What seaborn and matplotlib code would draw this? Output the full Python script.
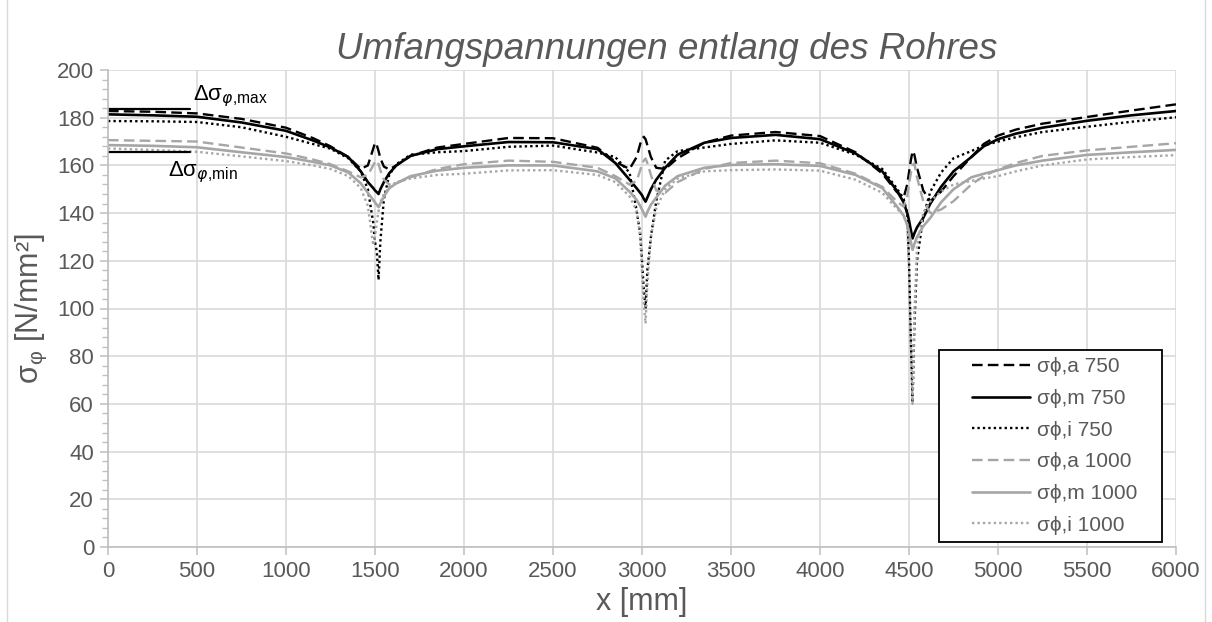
import numpy as np
import pandas as pd
import seaborn as sns
import matplotlib
matplotlib.use("Agg")
import matplotlib.pyplot as plt
from matplotlib.ticker import MultipleLocator
from matplotlib.lines import Line2D
from matplotlib.patches import Rectangle

# ---------------- data ----------------
x_mm = [0, 250, 500, 750, 1000, 1150, 1250, 1350, 1420, 1460,
        1490, 1500, 1510, 1520, 1530, 1550, 1580, 1620, 1700, 1850,
        2000, 2250, 2500, 2750, 2850, 2930, 2970, 2990, 3000, 3010,
        3020, 3030, 3050, 3080, 3130, 3200, 3350, 3500, 3750, 4000,
        4200, 4350, 4430, 4470, 4490, 4500, 4510, 4520, 4530, 4545,
        4580, 4620, 4680, 4750, 4850, 4920, 5000, 5100, 5250, 5500,
        5750, 6000]

sig_a_750 = [182.8, 182.5, 181.8, 179.5, 175.8, 171.5, 168.0, 163.5, 158.5, 160.0,
             167.0, 169.5, 168.5, 166.0, 163.0, 159.5, 158.3, 160.0, 164.0, 167.5,
             169.0, 171.5, 171.4, 167.4, 161.5, 158.5, 163.5, 169.0, 171.0, 172.0,
             171.0, 168.5, 163.5, 159.0, 158.5, 163.0, 169.5, 172.5, 174.0, 172.3,
             165.5, 156.6, 149.0, 146.5, 152.0, 157.0, 162.0, 166.0, 164.5, 159.0,
             149.5, 145.0, 149.0, 155.5, 163.5, 169.0, 172.5, 175.0, 177.5, 180.3,
             183.0, 185.6]

sig_m_750 = [181.4, 181.0, 180.4, 178.0, 174.5, 170.5, 167.5, 163.5, 157.5, 153.0,
             150.5, 149.5, 148.8, 148.0, 150.0, 153.0, 156.7, 160.0, 164.0, 166.8,
             168.0, 169.8, 169.7, 166.8, 161.0, 154.0, 150.4, 148.5, 147.5, 146.0,
             144.8, 146.5, 150.0, 154.0, 159.0, 164.5, 169.5, 171.5, 172.8, 171.0,
             165.0, 157.5, 149.6, 144.5, 140.0, 137.0, 133.0, 129.4, 131.5, 134.0,
             138.0, 144.0, 151.0, 157.5, 163.5, 168.0, 171.0, 173.3, 175.8, 178.7,
             181.0, 182.8]

sig_i_750 = [178.6, 178.5, 178.2, 176.0, 172.0, 169.0, 167.0, 163.0, 157.5, 150.0,
             136.0, 128.0, 124.0, 112.0, 128.0, 146.0, 156.0, 160.5, 164.5, 165.5,
             166.0, 167.8, 168.3, 165.4, 163.5, 157.0, 141.0, 131.0, 120.0, 108.0,
             100.0, 116.0, 130.0, 145.0, 162.0, 166.0, 167.5, 169.0, 170.5, 169.5,
             164.5, 158.5, 150.5, 146.0, 140.0, 120.0, 88.0, 60.5, 92.0, 120.0,
             138.5, 149.0, 157.0, 163.0, 166.0, 168.3, 170.0, 171.8, 174.0, 176.2,
             178.3, 180.2]

sig_a_1000 = [170.6, 170.3, 170.0, 167.5, 165.0, 162.5, 160.5, 157.5, 155.0, 156.0,
              160.0, 161.5, 162.0, 160.5, 158.0, 154.0, 152.0, 152.5, 155.0, 158.5,
              160.5, 162.0, 161.5, 159.0, 155.5, 152.0, 153.5, 158.0, 160.5, 162.0,
              162.9, 161.0, 156.0, 149.5, 148.5, 153.0, 158.5, 161.0, 162.0, 160.9,
              156.5, 151.0, 145.0, 142.7, 147.0, 152.0, 156.5, 160.0, 160.9, 155.0,
              145.0, 140.0, 141.5, 145.0, 152.0, 155.5, 158.3, 161.0, 164.0, 166.3,
              167.8, 169.3]

sig_m_1000 = [168.5, 168.2, 167.6, 165.5, 163.5, 161.5, 160.0, 157.0, 152.5, 148.5,
              145.5, 144.5, 143.5, 142.5, 144.0, 147.0, 150.4, 152.5, 155.5, 157.8,
              159.0, 160.0, 160.0, 157.5, 154.6, 149.0, 145.5, 143.0, 141.5, 140.0,
              138.5, 140.5, 143.5, 146.5, 151.5, 155.5, 159.0, 160.2, 160.5, 159.8,
              156.0, 150.5, 143.0, 139.0, 135.0, 132.0, 128.0, 124.6, 127.0, 130.0,
              134.5, 138.0, 144.5, 150.0, 155.0, 156.5, 158.0, 160.0, 162.0, 164.4,
              165.5, 166.5]

sig_i_1000 = [167.1, 166.5, 165.7, 163.8, 161.8, 160.0, 158.5, 155.5, 150.5, 143.0,
              126.5, 130.0, 136.0, 141.0, 144.5, 148.0, 151.0, 153.0, 154.5, 156.0,
              156.5, 157.9, 158.0, 156.0, 153.0, 147.0, 141.0, 130.0, 115.0, 102.0,
              93.7, 110.0, 130.0, 142.0, 150.0, 154.5, 157.5, 158.0, 158.3, 157.8,
              154.0, 148.5, 142.0, 139.0, 135.0, 115.0, 85.0, 60.0, 98.0, 126.0,
              140.0, 145.0, 149.0, 152.0, 153.5, 154.5, 155.5, 157.5, 160.0, 162.5,
              163.5, 164.3]

series_labels = ["σϕ,a 750", "σϕ,m 750", "σϕ,i 750",
                 "σϕ,a 1000", "σϕ,m 1000", "σϕ,i 1000"]

# annotation marks (Δσ max / min reference lines)
ann_x = [0, 460]
ann_max = [183.5, 183.5]
ann_min = [165.7, 165.7]

x_ticks = list(range(0, 6001, 500))
y_ticks = list(range(0, 201, 20))

# ---------------- style ----------------
sns.set_theme(style="white")
plt.rcParams['font.family'] = ['Liberation Sans', 'DejaVu Sans']
plt.rcParams['mathtext.fontset'] = 'dejavusans'

TXT = '#595959'
GREY = '#a6a6a6'

fig = plt.figure(figsize=(12.12, 6.22), dpi=100)
ax = fig.add_axes([108/1212, 1-547/622, (1176-108)/1212, 477/622])

series = [sig_a_750, sig_m_750, sig_i_750, sig_a_1000, sig_m_1000, sig_i_1000]
colors = ['black', 'black', 'black', GREY, GREY, GREY]
styles = [(0, (4.5, 2.2)), '-', (0, (1.0, 1.3)),
          (0, (4.5, 2.2)), '-', (0, (1.0, 1.3))]
widths = [1.7, 1.9, 1.7, 1.7, 1.9, 1.7]

for vals, lab, c, ls, lw in zip(series, series_labels, colors, styles, widths):
    sns.lineplot(x=x_mm, y=vals, ax=ax, color=c, linestyle=ls, linewidth=lw,
                 label=lab, estimator=None, sort=False, legend=False)

series_handles = list(ax.lines[:6])

sns.lineplot(x=ann_x, y=ann_max, ax=ax, color='black', linewidth=1.6,
             estimator=None, legend=False)
sns.lineplot(x=ann_x, y=ann_min, ax=ax, color='black', linewidth=1.6,
             estimator=None, legend=False)

ax.text(480, 189, 'Δσ' + r'$_{\varphi\mathregular{,\!max}}$', fontsize=16,
        color='black', va='center', ha='left')
ax.text(338, 157, 'Δσ' + r'$_{\varphi\mathregular{,\!min}}$', fontsize=16,
        color='black', va='center', ha='left')

ax.set_xlim(0, 6000)
ax.set_ylim(0, 200)
ax.set_xticks(x_ticks)
ax.set_yticks(y_ticks)
ax.yaxis.set_minor_locator(MultipleLocator(4))
ax.grid(True, which='major', color='#d9d9d9', linewidth=1.2)
ax.set_axisbelow(True)

for s in ['top', 'right']:
    ax.spines[s].set_visible(False)
for s in ['left', 'bottom']:
    ax.spines[s].set_color('#bfbfbf')
    ax.spines[s].set_linewidth(1.2)

ax.tick_params(axis='both', which='major', labelsize=16, labelcolor=TXT,
               color='#bfbfbf', direction='out', length=6, width=1.1,
               left=True, bottom=True, pad=4)
ax.tick_params(axis='y', which='minor', color='#bfbfbf', direction='out',
               length=4, width=1.0, left=True)

ax.set_xlabel('x [mm]', fontsize=22, color=TXT, labelpad=4)
ax.set_ylabel(r'σ$_\mathregular{φ}$ [N/mm²]', fontsize=22, color=TXT, labelpad=6)

fig.text(0.55, 0.905, 'Umfangspannungen entlang des Rohres', fontsize=26.5,
         style='italic', color=TXT, ha='center', va='baseline')

# legend frame (drawn separately to match the wider inner margins)
frame = Rectangle((0.778, 0.0105), 0.987 - 0.778, 0.413 - 0.0105,
                  transform=ax.transAxes, facecolor='white', edgecolor='black',
                  linewidth=1.3, zorder=4, clip_on=False)
ax.add_patch(frame)

leg = ax.legend(series_handles, series_labels, loc='upper left',
                bbox_to_anchor=(0.809, 0.398), frameon=False,
                fontsize=15, handlelength=2.79, labelspacing=0.61,
                borderpad=0, handletextpad=0.34, borderaxespad=0)
leg.set_zorder(6)
for t in leg.get_texts():
    t.set_color(TXT)

fig.add_artist(Line2D([7/1212, 7/1212], [0, 1], transform=fig.transFigure,
                      color='#d9d9d9', linewidth=1.0))
fig.add_artist(Line2D([1205/1212, 1205/1212], [0, 1], transform=fig.transFigure,
                      color='#d9d9d9', linewidth=1.0))

fig.savefig('out.png', dpi=100)
